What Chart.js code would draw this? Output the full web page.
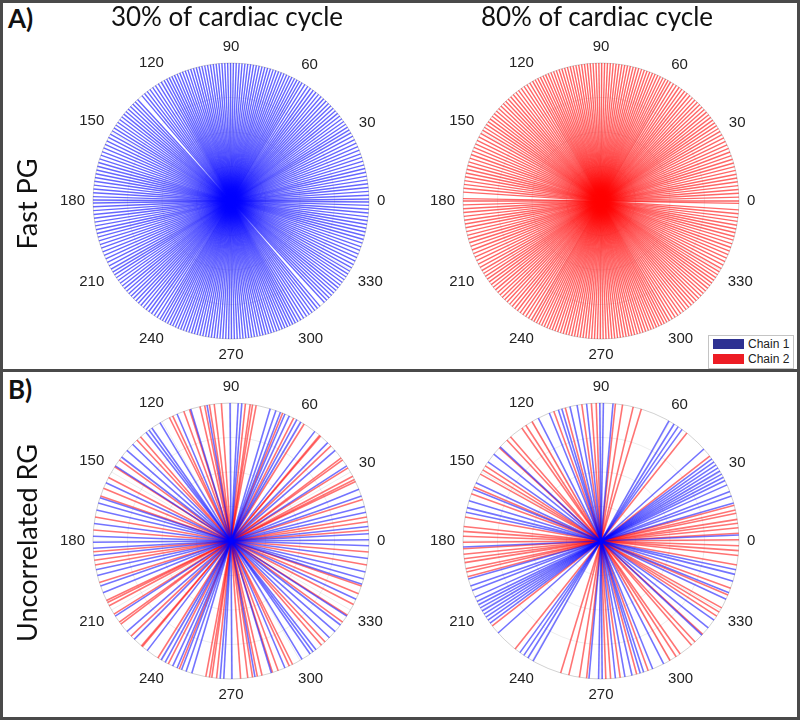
<!DOCTYPE html>
<html>
<head>
<meta charset="utf-8">
<script src="https://cdn.jsdelivr.net/npm/chart.js@4"></script>
<style>
  body { margin: 0; background: #fff; }
  #page { position: relative; width: 800px; height: 720px; overflow: hidden; font-family: Lato, "Open Sans", sans-serif; color: #111; }
  .box { position: absolute; box-sizing: border-box; border: 3px solid #4a4a4a; }
  canvas { position: absolute; }
  .txt { position: absolute; white-space: nowrap; }
  .title { font-size: 26px; transform: translateX(-50%); top: 0px; }
  .tag { font-size: 26px; font-weight: bold; left: 8px; }
  .side { font-size: 27px; transform: translate(-50%, -50%) rotate(-90deg); left: 26px; }
  #legend { position: absolute; left: 708px; top: 335px; width: 86px; height: 34px; box-sizing: border-box; border: 1px solid #c4c4c4; background: #fff; font-family: "Liberation Sans", Arial, sans-serif; font-size: 12px; }
  .sw { position: absolute; left: 4px; width: 31px; height: 10px; }
  .lab { position: absolute; left: 39px; line-height: 14px; color: #222; }
</style>
</head>
<body>
<div id="page">
  <div class="box" style="left:0;top:0;width:800px;height:372px"></div>
  <div class="box" style="left:0;top:369px;width:800px;height:351px"></div>

  <canvas id="a30" width="380" height="380" style="left:41px;top:11px"></canvas>
  <canvas id="a80" width="380" height="380" style="left:411px;top:11px"></canvas>
  <canvas id="b30" width="380" height="380" style="left:41px;top:351px"></canvas>
  <canvas id="b80" width="380" height="380" style="left:411px;top:351px"></canvas>

  <div class="txt tag" style="top:2px">A)</div>
  <div class="txt tag" style="top:373px">B)</div>
  <div class="txt title" style="left:227px">30% of cardiac cycle</div>
  <div class="txt title" style="left:597px">80% of cardiac cycle</div>
  <div class="txt side" style="top:204px">Fast PG</div>
  <div class="txt side" style="top:543px">Uncorrelated RG</div>

  <div id="legend">
    <div class="sw" style="top:3px;background:#2e3192"></div><div class="lab" style="top:1px">Chain 1</div>
    <div class="sw" style="top:18px;background:#ed1c24"></div><div class="lab" style="top:16px">Chain 2</div>
  </div>
</div>

<script>
// polar tick labels (degrees)
const tickAngles = [0, 30, 60, 90, 120, 150, 180, 210, 240, 270, 300, 330];
const tickLabels = ['0', '30', '60', '90', '120', '150', '180', '210', '240', '270', '300', '330'];

// spoke angles (deg, each spoke is a full diameter through the centre)
const fastPG30 = [
  0.8, 2.4, 4.0, 5.6, 7.2, 8.8, 10.4, 12.0, 13.6, 15.2, 16.8, 18.4, 20.0, 21.6, 23.2, 24.8, 26.4, 28.0, 29.6,
  31.0, 32.4, 33.8, 35.2, 36.6, 38.0, 39.4, 40.8, 42.2, 43.6, 45.0, 46.4, 47.8, 49.2, 50.6, 52.0, 53.4, 54.8, 56.2, 57.6, 59.0,
  60.2, 61.4, 62.6, 63.8, 65.0, 66.2, 67.4, 68.6, 69.8, 71.0, 72.2, 73.4, 74.6, 75.8, 77.0, 78.2, 79.4, 80.6, 81.8, 83.0,
  84.2, 85.4, 86.6, 87.8, 89.0, 90.2, 91.4, 92.6, 93.8, 95.0, 96.2, 97.4, 98.6, 99.8, 101.0, 102.2, 103.4, 104.6, 105.8, 107.0,
  108.2, 109.4, 110.6, 111.8, 113.0, 114.2, 115.4, 116.6, 117.8, 119.0,
  120.4, 121.8, 123.2, 124.6, 126.0, 127.4, 128.8, 130.2, 132.6, 134.0, 135.4, 136.8, 138.2, 139.6, 141.0, 142.4, 143.8, 145.2, 146.6, 148.0, 149.4,
  151.0, 152.6, 154.2, 155.8, 157.4, 159.0, 160.6, 162.2, 163.8, 165.4, 167.0, 168.6, 170.2, 171.8, 173.4, 175.0, 176.6, 178.2, 179.6
];
const fastPG80 = [
  0.0, 1.6, 3.2, 4.8, 6.4, 8.0, 9.6, 11.2, 12.8, 14.4, 16.0, 17.6, 19.2, 20.8, 22.4, 24.0, 25.6, 27.2, 28.8,
  30.3, 31.7, 33.1, 34.5, 35.9, 37.3, 38.7, 40.1, 41.5, 42.9, 44.3, 45.7, 47.1, 48.5, 49.9, 51.3, 52.7, 54.1, 55.5, 56.9, 58.3, 59.7,
  60.9, 62.1, 63.3, 64.5, 65.7, 66.9, 68.1, 69.3, 70.5, 71.7, 72.9, 74.1, 75.3, 76.5, 77.7, 78.9, 80.1, 81.3, 82.5, 83.7,
  84.9, 86.1, 87.3, 88.5, 89.7, 90.9, 92.1, 93.3, 94.5, 95.7, 96.9, 98.1, 99.3, 100.5, 101.7, 102.9, 104.1, 105.3, 106.5, 107.7,
  108.9, 110.1, 111.3, 112.5, 113.7, 114.9, 116.1, 117.3, 118.5, 119.7,
  121.1, 122.5, 123.9, 125.3, 126.7, 128.1, 129.5, 130.9, 132.3, 133.7, 135.1, 136.5, 137.9, 139.3, 140.7, 142.1, 143.5, 144.9, 146.3, 147.7, 149.1,
  150.7, 152.3, 153.9, 155.5, 157.1, 158.7, 160.3, 161.9, 163.5, 165.1, 166.7, 168.3, 169.9, 171.5, 173.1, 174.7, 176.3, 179.0
];

const rg30Chain1 = [0.5, 3, 6, 12, 14.5, 19, 22, 33, 41, 45.5, 52.6, 59.6, 61.5, 65, 67, 69, 71, 73.5, 85.5, 87, 90.4,
  100, 107, 113, 121, 125, 126.5, 128, 135.5, 139, 142.5, 147, 155, 161.7, 164, 167, 172.7, 178];
const rg30Chain2 = [4.5, 8, 10, 17.5, 25.5, 26.5, 28, 32, 36, 37, 43.6, 49.5, 50, 58, 63, 68, 79.5, 81, 82, 84, 94, 97, 99,
  101, 103, 107.5, 110, 115, 116.5, 131, 133, 144, 147.5, 152.6, 157.5, 161, 170, 175.4];
const rg80Chain1 = [2.5, 16, 19, 21, 24, 26, 27.5, 29, 30.5, 32, 33.5, 35, 36.5, 41.8, 54, 56, 58, 60.5, 85, 89, 90.5,
  96, 100, 103, 106.5, 108, 112, 117, 137, 141, 145, 155, 158, 163, 166, 168];
const rg80Chain2 = [0.5, 3.2, 5.5, 7.4, 9, 11.6, 13, 15, 38, 51.5, 73, 76.5, 81, 84, 92, 94, 98, 105, 110, 120, 123, 125,
  131, 133, 137.5, 147, 149, 151, 157, 160, 170, 174, 176, 178];

const LIM = 190 / 138;

function spokes(angles, color, width) {
  return angles.map(a => {
    const t = a * Math.PI / 180;
    return {
      data: [{ x: Math.cos(t), y: Math.sin(t) }, { x: -Math.cos(t), y: -Math.sin(t) }],
      showLine: true,
      borderColor: color,
      borderWidth: width,
      pointRadius: 0
    };
  });
}

const polarGrid = {
  id: 'polarGrid',
  beforeDatasetsDraw(chart) {
    const { ctx, scales: { x, y } } = chart;
    const cx = x.getPixelForValue(0), cy = y.getPixelForValue(0);
    const r = x.getPixelForValue(1) - cx;
    ctx.save();
    ctx.strokeStyle = 'rgba(0,0,0,0.07)';
    ctx.lineWidth = 1;
    [0.25, 0.5, 0.75].forEach(f => {
      ctx.beginPath(); ctx.arc(cx, cy, r * f, 0, Math.PI * 2); ctx.stroke();
    });
    tickAngles.forEach(a => {
      const t = a * Math.PI / 180;
      ctx.beginPath(); ctx.moveTo(cx, cy);
      ctx.lineTo(x.getPixelForValue(Math.cos(t)), y.getPixelForValue(Math.sin(t)));
      ctx.stroke();
    });
    ctx.strokeStyle = 'rgba(0,0,0,0.18)';
    ctx.beginPath(); ctx.arc(cx, cy, r, 0, Math.PI * 2); ctx.stroke();
    ctx.restore();
  },
  afterDraw(chart) {
    const { ctx, scales: { x, y } } = chart;
    const cx = x.getPixelForValue(0), cy = y.getPixelForValue(0);
    const r = x.getPixelForValue(1) - cx;
    ctx.save();
    ctx.font = '15px "Liberation Sans", Arial, sans-serif';
    ctx.fillStyle = '#222';
    ctx.textAlign = 'center';
    ctx.textBaseline = 'middle';
    tickAngles.forEach((a, i) => {
      const t = a * Math.PI / 180;
      const w = ctx.measureText(tickLabels[i]).width;
      const d = r + 8 + Math.abs(Math.cos(t)) * w / 2 + Math.abs(Math.sin(t)) * 8;
      ctx.fillText(tickLabels[i], cx + d * Math.cos(t), cy - d * Math.sin(t));
    });
    ctx.restore();
  }
};

function polar(id, datasets) {
  new Chart(document.getElementById(id), {
    type: 'scatter',
    data: { datasets },
    options: {
      responsive: false,
      animation: false,
      events: [],
      layout: { padding: 0 },
      plugins: { legend: { display: false }, tooltip: { enabled: false } },
      scales: {
        x: { type: 'linear', min: -LIM, max: LIM, display: false },
        y: { type: 'linear', min: -LIM, max: LIM, display: false }
      }
    },
    plugins: [polarGrid]
  });
}

polar('a30', spokes(fastPG30, 'rgba(0,0,255,0.6)', 1.4));
polar('a80', spokes(fastPG80, 'rgba(255,0,0,0.6)', 1.4));
polar('b30', spokes(rg30Chain1, 'rgba(0,0,255,0.55)', 1.6).concat(spokes(rg30Chain2, 'rgba(255,0,0,0.55)', 1.6)));
polar('b80', spokes(rg80Chain1, 'rgba(0,0,255,0.55)', 1.6).concat(spokes(rg80Chain2, 'rgba(255,0,0,0.55)', 1.6)));
</script>
</body>
</html>
